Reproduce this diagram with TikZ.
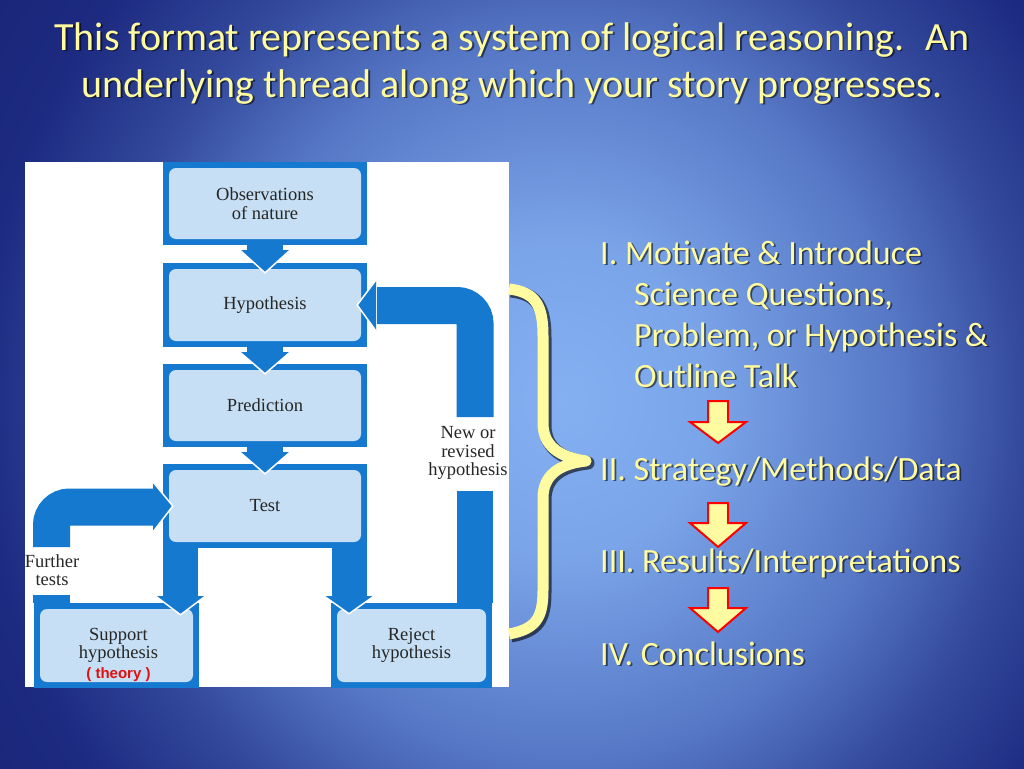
\documentclass[tikz,border=0pt]{standalone}
\usepackage{fontspec}
\setmainfont{Liberation Serif}
\newfontfamily\slidefont{Carlito}
\newfontfamily\tagfont{Liberation Sans}
\usetikzlibrary{positioning,backgrounds}
\definecolor{flowblue}{HTML}{1679D0}
\definecolor{boxblue}{HTML}{C6DFF4}
\definecolor{bglight}{HTML}{84B0F2}
\definecolor{bgmid}{HTML}{5576C4}
\definecolor{bgdark}{HTML}{1C2A80}
\definecolor{bgedge}{HTML}{182270}
\definecolor{slideyellow}{HTML}{FFFBA0}
\definecolor{theoryred}{HTML}{E01010}
\pgfdeclareradialshading{slidebg}{\pgfpointorigin}{color(0bp)=(bglight); color(6bp)=(bglight!80!bgmid); color(14bp)=(bgmid); color(19bp)=(bgdark!60!bgmid); color(24bp)=(bgdark); color(32bp)=(bgedge)}
\tikzset{
  frame/.style={fill=flowblue},
  stepbox/.style={fill=boxblue, rounded corners=7pt, align=center, text=black!85,
    font=\fontsize{18.5}{18.5}\selectfont},
  flowtext/.style={align=center, text=black!85, font=\fontsize{18.5}{18.5}\selectfont},
  loop/.style={draw=flowblue, line width=37pt, rounded corners=18pt},
  bar/.style={draw=flowblue, line width=35pt},
  slidetext/.style={text=slideyellow, inner sep=0pt, font=\slidefont\fontsize{34}{41}\selectfont},
  yellowarrow/.style={fill=slideyellow, draw=red, line width=2pt, line join=miter},
}
\newcommand\blockhead[3]{%
  \fill[flowblue] #1 -- #2 -- #3 -- cycle;
  \draw[white, line width=1.5pt] #1 -- #2 -- #3;}
\newcommand\shadowed[4]{%
  \node[#3, text=black, opacity=0.55, xshift=1.8pt, yshift=-1.8pt] (#1-shade) at (#2) {#4};
  \node[#3] (#1) at (#2) {#4};}

\begin{document}
\begin{tikzpicture}[x=1pt,y=-1pt]
  \useasboundingbox (0,0) rectangle (1024,768);
  \begin{scope}[on background layer]
    \clip (0,0) rectangle (1024,768);
    \shade[shading=slidebg] (-50,-250) rectangle (1174,1050);
    \fill[white] (25,162) rectangle (509,687);
  \end{scope}

  \node[stepbox, minimum width=192pt, minimum height=71pt] (obs) at (265,203.5) {Observations\\of nature};
  \node[stepbox, minimum width=192pt, minimum height=72pt] (hyp) at (265,305) {Hypothesis};
  \node[stepbox, minimum width=192pt, minimum height=71pt] (pred) at (265,405.5) {Prediction};
  \node[stepbox, minimum width=192pt, minimum height=72pt] (test) at (265,506) {Test};
  \node[stepbox, minimum width=153pt, minimum height=73pt] (sup) at (116.5,645.5) {};
  \node[flowtext] (suptext) at ([xshift=2pt,yshift=-9pt]sup.center)
    {Support\\hypothesis\\[1pt]{\tagfont\bfseries\fontsize{15}{16}\selectfont\color{theoryred}( theory )}};
  \node[stepbox, minimum width=149pt, minimum height=73pt] (rej) at (411.5,645.5) {Reject\\hypothesis};
  \node[flowtext] (further) at (52,570) {Further\\tests};
  \node[flowtext] (revised) at (468,453) {New or\\revised\\hypothesis};

  \begin{scope}[on background layer]
    \foreach \n in {obs,hyp,pred,test,sup,rej}
      \fill[frame] ([shift={(-6,-6)}]\n.north west) rectangle ([shift={(6,6)}]\n.south east);
    \coordinate (legL) at (180.5,596);
    \coordinate (legR) at (349,596);
    \draw[bar] (legL |- test.south) -- (legL);
    \draw[bar] (legR |- test.south) -- (legR);
    \draw[loop] (51.5,547) -- (51.5,507) -- (154,507);
    \fill[frame] (33,595) rectangle (70,603);
    \draw[loop] (475,417) -- (475,305.5) -- (377,305.5);
    \fill[frame] (457,491) rectangle (493,603);
  \end{scope}

  \foreach \a/\b in {obs/hyp,hyp/pred,pred/test} {
    \fill[flowblue] ([xshift=-18pt,yshift=-6pt]\a.south) rectangle ([xshift=18pt,yshift=-12pt]\a.south);
    \blockhead{([xshift=-25pt,yshift=-11pt]\a.south)}{([yshift=-4pt]\b.north)}{([xshift=25pt,yshift=-11pt]\a.south)}
  }
  \blockhead{([xshift=-25pt]legL)}{([yshift=-6pt]legL |- sup.north)}{([xshift=25pt]legL)}
  \blockhead{([xshift=-25pt]legR)}{([yshift=-5pt]legR |- rej.north)}{([xshift=25pt]legR)}
  \blockhead{(153,482)}{([xshift=4pt]test.west)}{(153,532)}
  \blockhead{(376,280)}{([xshift=-4pt]hyp.east)}{(376,331)}

  \draw[black, opacity=0.6, line width=13pt, line join=round]
    (511,291) .. controls (538,294) and (545,308) .. (545,338) -- (545,425)
    .. controls (545,447) and (560,459) .. (588,463) .. controls (560,466) and (545,478) .. (545,500)
    -- (545,592) .. controls (545,620) and (538,631) .. (511,636);
  \draw[slideyellow, line width=11pt, line join=round]
    (509,289) .. controls (536,292) and (543,306) .. (543,336) -- (543,423)
    .. controls (543,445) and (558,457) .. (586,461) .. controls (558,464) and (543,476) .. (543,498)
    -- (543,590) .. controls (543,618) and (536,629) .. (509,634);

  \shadowed{title}{512,97}{slidetext, anchor=base, align=center, font=\slidefont\fontsize{40}{47}\selectfont}
    {This format represents a system of logical reasoning.~ An\\underlying thread along which your story progresses.}
  \shadowed{intro}{600,387}{slidetext, anchor=base west, align=left}
    {I. Motivate \& Introduce\\\hspace*{34pt}Science Questions,\\\hspace*{34pt}Problem, or Hypothesis \&\\\hspace*{34pt}Outline Talk}
  \shadowed{methods}{600,480}{slidetext, anchor=base west}{II. Strategy/Methods/Data}
  \shadowed{results}{600,572}{slidetext, anchor=base west}{III. Results/Interpretations}
  \shadowed{concl}{600,665}{slidetext, anchor=base west}{IV. Conclusions}

  \foreach \top/\base/\tip in {401/422/443,503/523/547,588/608/632}
    \filldraw[yellowarrow] (708,\top) -- (728,\top) -- (728,\base) -- (746,\base)
      -- (718,\tip) -- (690,\base) -- (708,\base) -- cycle;
\end{tikzpicture}
\end{document}
